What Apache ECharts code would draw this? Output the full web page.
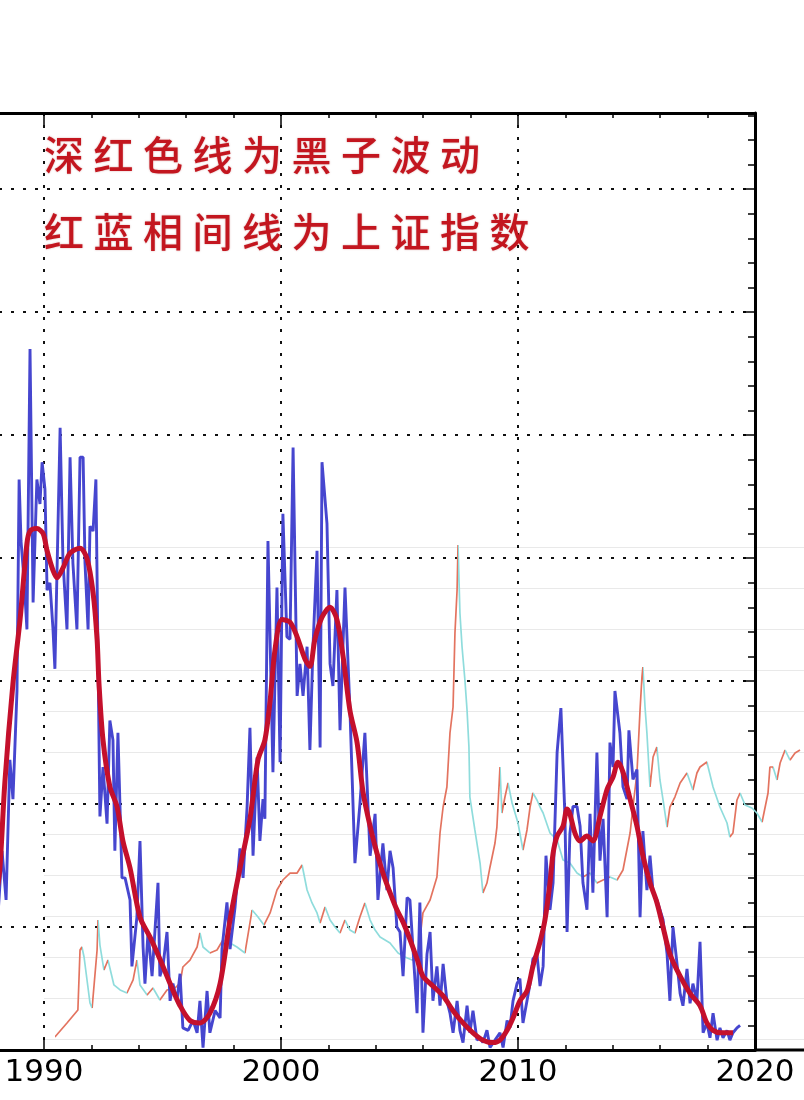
<!DOCTYPE html>
<html>
<head>
<meta charset="utf-8">
<script src="https://cdn.jsdelivr.net/npm/echarts@6/dist/echarts.min.js"></script>
<style>
html,body{margin:0;padding:0;background:#fff;}
#chart{width:804px;height:1100px;}
</style>
</head>
<body>
<div id="chart"></div>
<script>
// ---- text ----
const titleLines = ['深红色线为黑子波动', '红蓝相间线为上证指数'];
const xTickLabels = ['1990', '2000', '2010', '2020'];

// ---- sunspot number, monthly (year, value) ----
const sunspotMonthly = [
[1988.02,49],[1988.23,81],[1988.40,61],[1988.56,118],[1988.69,102],[1988.86,146],[1988.95,232],[1989.03,207],
[1989.16,191],[1989.28,171],[1989.41,285],[1989.54,182],[1989.70,232],[1989.83,222],[1989.92,239],[1990.04,228],
[1990.13,187],[1990.25,190],[1990.38,171],[1990.46,155],[1990.68,253],[1990.80,199],[1990.97,171],[1991.10,241],
[1991.22,198],[1991.39,171],[1991.52,241],[1991.65,241],[1991.73,198],[1991.86,171],[1991.94,213],[1992.07,211],
[1992.19,232],[1992.36,95],[1992.49,115],[1992.66,92],[1992.78,134],[1992.91,126],[1992.99,81],[1993.12,129],
[1993.29,70],[1993.42,70],[1993.63,61],[1993.71,34],[1993.92,54],[1994.05,85],[1994.18,42],[1994.26,27],
[1994.39,48],[1994.56,30],[1994.81,68],[1994.89,30],[1995.02,34],[1995.19,48],[1995.32,20],[1995.44,27],
[1995.61,20],[1995.74,31],[1995.86,9],[1996.08,8],[1996.29,12],[1996.46,7],[1996.58,20],[1996.71,1],
[1996.88,24],[1997.00,7],[1997.22,16],[1997.43,13],[1997.51,41],[1997.72,60],[1997.85,41],[1998.06,58],
[1998.27,82],[1998.40,70],[1998.57,99],[1998.69,131],[1998.82,79],[1998.99,119],[1999.11,85],[1999.24,102],
[1999.32,94],[1999.45,207],[1999.66,113],[1999.83,188],[1999.96,117],[2000.08,218],[2000.25,168],[2000.38,167],
[2000.51,245],[2000.68,144],[2000.80,157],[2000.93,144],[2001.10,164],[2001.22,122],[2001.35,164],[2001.52,203],
[2001.65,123],[2001.73,239],[2001.94,214],[2002.07,157],[2002.19,148],[2002.36,187],[2002.49,130],[2002.70,188],
[2002.91,138],[2003.12,76],[2003.33,100],[2003.54,129],[2003.76,79],[2003.97,96],[2004.09,61],[2004.30,84],
[2004.47,65],[2004.60,81],[2004.73,74],[2004.89,50],[2005.02,48],[2005.15,30],[2005.32,62],[2005.44,61],
[2005.57,41],[2005.74,15],[2005.86,60],[2005.99,7],[2006.16,39],[2006.29,48],[2006.41,20],[2006.58,34],
[2006.71,18],[2006.84,35],[2007.00,20],[2007.13,15],[2007.26,7],[2007.43,20],[2007.55,8],[2007.68,3],
[2007.85,18],[2007.97,7],[2008.10,16],[2008.27,4],[2008.40,5],[2008.52,3],[2008.69,8],[2008.82,1],
[2009.03,4],[2009.24,7],[2009.37,1],[2009.54,12],[2009.66,9],[2009.79,20],[2009.96,27],[2010.08,29],
[2010.21,11],[2010.38,20],[2010.51,27],[2010.63,37],[2010.80,39],[2010.93,26],[2011.06,34],[2011.18,79],
[2011.35,57],[2011.48,68],[2011.65,121],[2011.81,139],[2011.98,95],[2012.07,48],[2012.19,88],[2012.32,99],
[2012.49,99],[2012.62,91],[2012.74,68],[2012.91,57],[2013.04,96],[2013.16,64],[2013.33,121],[2013.46,77],
[2013.59,94],[2013.76,54],[2013.88,125],[2014.01,115],[2014.09,146],[2014.30,129],[2014.43,107],[2014.60,102],
[2014.68,130],[2014.85,110],[2015.02,114],[2015.15,54],[2015.27,89],[2015.44,65],[2015.57,79],[2015.70,64],
[2015.86,61],[2016.12,53],[2016.29,39],[2016.41,20],[2016.54,50],[2016.71,35],[2016.84,23],[2016.96,18],
[2017.13,33],[2017.26,19],[2017.38,27],[2017.55,20],[2017.68,44],[2017.81,7],[2017.97,11],[2018.10,5],
[2018.23,15],[2018.40,4],[2018.52,9],[2018.65,5],[2018.82,8],[2018.94,4],[2019.07,7],[2019.24,9],[2019.37,10]
];

// ---- sunspot number, smoothed ----
const sunspotSmoothed = [
[1988.02,65],[1988.14,74],[1988.35,109],[1988.69,149],[1988.99,175],[1989.28,206],[1989.41,211],[1989.70,212],
[1989.96,210],[1990.13,203],[1990.38,195],[1990.55,192],[1990.80,196],[1991.10,202],[1991.52,204],[1991.81,200],
[1992.07,186],[1992.24,167],[1992.32,149],[1992.49,126],[1992.78,107],[1993.08,99],[1993.33,85],[1993.63,74],
[1994.05,54],[1994.47,46],[1994.89,37],[1995.32,27],[1995.74,18],[1996.16,12],[1996.58,11],[1997.00,15],
[1997.43,27],[1997.85,53],[1998.27,74],[1998.69,94],[1999.03,118],[1999.32,126],[1999.54,142],[1999.75,163],
[2000.04,175],[2000.38,174],[2000.68,168],[2001.01,159],[2001.22,156],[2001.43,167],[2001.73,176],[2002.07,180],
[2002.36,175],[2002.62,160],[2002.91,138],[2003.21,125],[2003.46,105],[2003.76,91],[2004.05,80],[2004.30,72],
[2004.60,64],[2004.89,57],[2005.15,52],[2005.44,45],[2005.74,37],[2005.99,30],[2006.41,26],[2006.84,22],
[2007.26,16],[2007.68,11],[2008.10,7],[2008.52,4],[2008.95,3],[2009.24,4],[2009.54,8],[2009.79,13],
[2010.08,20],[2010.38,24],[2010.63,34],[2010.93,44],[2011.14,53],[2011.35,68],[2011.48,80],[2011.65,87],
[2011.90,91],[2012.07,98],[2012.19,96],[2012.41,88],[2012.62,85],[2012.91,87],[2013.16,85],[2013.46,95],
[2013.76,106],[2014.01,111],[2014.22,117],[2014.43,113],[2014.73,102],[2015.02,91],[2015.27,79],[2015.57,68],
[2015.86,60],[2016.12,50],[2016.41,39],[2016.84,30],[2017.26,23],[2017.68,18],[2017.97,11],[2018.23,8],
[2018.57,7],[2018.82,7],[2019.07,7]
];

// ---- Shanghai Composite Index (year, points) ----
const shIndex = [
[1990.46,24],[1990.97,195],[1991.43,354],[1991.52,1085],[1991.60,1122],[1991.69,1000],[1991.94,439],[1992.03,378],
[1992.24,1085],[1992.28,1451],[1992.36,1146],[1992.53,841],[1992.70,963],[1992.95,659],[1993.21,598],[1993.50,561],
[1993.76,720],[1993.92,963],[1994.05,659],[1994.35,537],[1994.60,622],[1994.89,476],[1995.19,598],[1995.53,622],
[1995.74,683],[1995.86,878],[1996.16,963],[1996.46,1122],[1996.58,1293],[1996.71,1122],[1997.00,1049],[1997.30,1085],
[1997.55,1207],[1997.85,1171],[1998.14,1122],[1998.48,1049],[1998.78,1573],[1999.03,1488],[1999.28,1390],[1999.54,1537],
[1999.83,1817],[2000.08,1939],[2000.38,2024],[2000.68,2024],[2000.89,2122],[2001.10,1817],[2001.31,1659],[2001.52,1537],
[2001.65,1415],[2001.86,1610],[2002.07,1451],[2002.28,1366],[2002.49,1293],[2002.70,1451],[2002.91,1329],[2003.12,1293],
[2003.33,1488],[2003.54,1659],[2003.76,1451],[2003.97,1329],[2004.18,1244],[2004.60,1171],[2004.94,1049],[2005.23,1000],
[2005.53,963],[2005.78,1024],[2005.99,1537],[2006.29,1695],[2006.58,1976],[2006.71,2512],[2006.84,2829],[2007.00,3073],
[2007.13,3732],[2007.26,4049],[2007.34,4951],[2007.43,5476],[2007.47,6024],[2007.55,5195],[2007.64,4780],[2007.76,4378],
[2007.85,4012],[2007.93,3561],[2007.97,2951],[2008.18,2549],[2008.40,2146],[2008.52,1780],[2008.69,1902],[2008.82,2098],
[2009.03,2390],[2009.11,2585],[2009.24,3317],[2009.32,2756],[2009.45,2951],[2009.58,3122],[2009.75,2878],[2010.00,2634],
[2010.21,2305],[2010.38,2549],[2010.51,2829],[2010.63,3000],[2010.80,2915],[2010.93,2829],[2011.06,2756],[2011.35,2512],
[2011.65,2427],[2011.90,2183],[2012.19,2146],[2012.49,2024],[2012.74,1976],[2013.04,2024],[2013.33,1902],[2013.59,1939],
[2013.88,1976],[2014.18,1939],[2014.43,2061],[2014.73,2512],[2014.85,2829],[2015.02,3244],[2015.15,4012],[2015.23,4415],
[2015.27,4537],[2015.36,4049],[2015.44,3732],[2015.57,3073],[2015.70,3439],[2015.86,3561],[2015.99,3159],[2016.12,2915],
[2016.29,2585],[2016.41,2829],[2016.62,2951],[2016.84,3122],[2017.13,3244],[2017.38,3037],[2017.55,3244],[2017.68,3317],
[2017.97,3378],[2018.23,3073],[2018.52,2829],[2018.82,2634],[2018.94,2463],[2019.07,2512],[2019.24,2915],[2019.37,3000],
[2019.58,2854],[2019.87,2817],[2020.08,2756],[2020.30,2646],[2020.55,3000],[2020.63,3317],[2020.76,3317],[2020.93,3159],
[2021.06,3366],[2021.27,3524],[2021.48,3402],[2021.69,3488],[2021.90,3524]
];

const UP = '#e3735f', DOWN = '#8fdcdc';
const pieces = [];
for (let i = 0; i < shIndex.length - 1; i++) {
  pieces.push({ gte: shIndex[i][0], lt: shIndex[i + 1][0], color: shIndex[i + 1][1] >= shIndex[i][1] ? UP : DOWN });
}
pieces.push({ gte: shIndex[shIndex.length - 1][0], color: UP });

const graphics = [];
titleLines.forEach((line, li) => {
  Array.from(line).forEach((ch, ci) => {
    graphics.push({
      type: 'text', x: 44 + ci * 49.5, y: li === 0 ? 155 : 232, z: 100,
      style: { text: ch, fill: '#c3161f', font: '500 40px "Noto Sans CJK SC", sans-serif',
        verticalAlign: 'middle', align: 'left', textShadowColor: 'rgba(140,0,0,0.35)', textShadowBlur: 2 }
    });
  });
});
graphics.push({ type: 'line', z: 100, shape: { x1: 754, y1: 1050, x2: 804, y2: 1050 }, style: { stroke: '#000', lineWidth: 3 } });

const dotted = { type: [3, 9], color: '#111', width: 2 };
const chart = echarts.init(document.getElementById('chart'), null, { renderer: 'canvas' });
chart.setOption({
  animation: false,
  backgroundColor: '#fff',
  grid: [
    { left: -193, right: 49, top: 113, bottom: 50, containLabel: false, outerBoundsMode: 'none' },
    { left: 44, right: 0, top: 547, bottom: 61, containLabel: false, outerBoundsMode: 'none' }
  ],
  xAxis: [
    { type: 'value', gridIndex: 0, position: 'bottom', min: 1980, max: 2020, interval: 10,
      axisLine: { onZero: false, lineStyle: { color: '#000', width: 3 } },
      axisTick: { inside: true, length: 12, lineStyle: { color: '#000', width: 1.5 } },
      minorTick: { show: true, splitNumber: 5, length: 5, lineStyle: { color: '#000', width: 1.5 } },
      axisLabel: { color: '#000', fontSize: 31, fontFamily: 'DejaVu Sans', margin: 7,
        formatter: v => (xTickLabels.indexOf(String(v)) >= 0 ? String(v) : '') },
      splitLine: { show: true, lineStyle: dotted } },
    { type: 'value', gridIndex: 0, position: 'top', min: 1980, max: 2020, interval: 10,
      axisLine: { onZero: false, lineStyle: { color: '#000', width: 3 } },
      axisTick: { inside: true, length: 12, lineStyle: { color: '#000', width: 1.5 } },
      minorTick: { show: true, splitNumber: 5, length: 5, lineStyle: { color: '#000', width: 1.5 } },
      axisLabel: { show: false }, splitLine: { show: false } },
    { type: 'value', gridIndex: 1, min: 1990, max: 2022.068, show: false }
  ],
  yAxis: [
    { type: 'value', gridIndex: 0, position: 'right', min: 0, max: 381, interval: 50,
      axisLine: { show: true, onZero: false, lineStyle: { color: '#000', width: 3 } },
      axisTick: { show: true, inside: true, length: 12, lineStyle: { color: '#000', width: 1.5 } },
      minorTick: { show: true, splitNumber: 5, length: 7, lineStyle: { color: '#000', width: 1.5 } },
      axisLabel: { show: false },
      splitLine: { show: true, lineStyle: dotted } },
    { type: 'value', gridIndex: 1, min: 0, max: 6000, interval: 500,
      axisLine: { show: false }, axisTick: { show: false }, axisLabel: { show: false },
      splitLine: { show: true, lineStyle: { color: '#e9e9e9', width: 1 } } }
  ],
  visualMap: { type: 'piecewise', show: false, dimension: 0, seriesIndex: 0, pieces: pieces },
  graphic: graphics,
  series: [
    { name: '上证指数', type: 'line', xAxisIndex: 2, yAxisIndex: 1, data: shIndex, showSymbol: false,
      clip: false, z: 2, lineStyle: { width: 1.7 } },
    { name: '黑子', type: 'line', xAxisIndex: 0, yAxisIndex: 0, data: sunspotMonthly, showSymbol: false,
      z: 3, lineStyle: { width: 2.9, color: '#4646cf' }, itemStyle: { color: '#4646cf' } },
    { name: '黑子平滑', type: 'line', xAxisIndex: 0, yAxisIndex: 0, data: sunspotSmoothed, showSymbol: false,
      smooth: 0.3, z: 4, lineStyle: { width: 5, color: '#c4102c' }, itemStyle: { color: '#c4102c' } }
  ]
});
</script>
</body>
</html>
